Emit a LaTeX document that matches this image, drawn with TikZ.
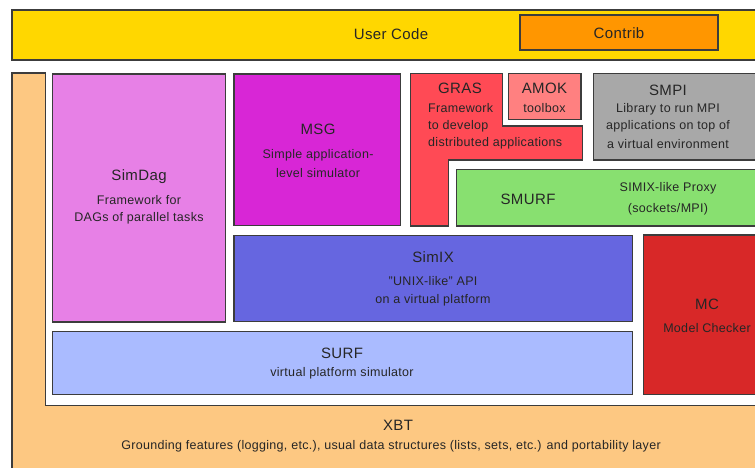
\documentclass[tikz,border=0pt]{standalone}
\usepackage{fontspec}
\setmainfont{Liberation Sans}[LetterSpace=2.5]
\definecolor{usercol}{RGB}{255,215,0}
\definecolor{contribcol}{RGB}{255,150,0}
\definecolor{xbtcol}{RGB}{253,200,130}
\definecolor{simdagcol}{RGB}{231,128,230}
\definecolor{msgcol}{RGB}{216,38,214}
\definecolor{grascol}{RGB}{255,74,85}
\definecolor{amokcol}{RGB}{255,128,128}
\definecolor{smpicol}{RGB}{168,168,168}
\definecolor{smurfcol}{RGB}{136,224,112}
\definecolor{simixcol}{RGB}{102,102,224}
\definecolor{mccol}{RGB}{216,40,40}
\definecolor{surfcol}{RGB}{170,187,255}
\definecolor{edgecol}{RGB}{60,60,60}
\tikzset{
  blk/.style={draw=edgecol, line width=1.1pt, anchor=north west, inner sep=0pt, outer sep=0pt},
  ttl/.style={font=\fontsize{15}{17}\selectfont, inner sep=0pt, text=black!85},
  sub/.style={font=\fontsize{12.5}{14}\selectfont, inner sep=0pt, text=black!85},
}
\begin{document}
\begin{tikzpicture}[x=1pt,y=-1pt]
\useasboundingbox (0,0) rectangle (755,468);
\clip (0,0) rectangle (755,468);
% User code
\node[blk, fill=usercol, minimum width=760pt, minimum height=50pt] (user) at (12,10) {};
\node[ttl] (userT) at (391,34) {User Code};
\node[blk, fill=contribcol, minimum width=198pt, minimum height=35pt] (contrib) at (520,15) {};
\node[ttl] (contribT) at (619,33) {Contrib};
% XBT
\draw[draw=edgecol, line width=1.1pt, fill=xbtcol] (12,73) -- (45.5,73) -- (45.5,405.5) -- (770,405.5) -- (770,480) -- (12,480) -- cycle;
\node[ttl] (xbtT) at (398,425) {XBT};
\node[sub] (xbtS) at (391,446) {Grounding features (logging, etc.), usual data structures (lists, sets, etc.) and portability layer};
% SimDag
\node[blk, fill=simdagcol, minimum width=173pt, minimum height=248pt] (simdag) at (52.5,74) {};
\node[ttl] (simdagT) at (139,177) {SimDag};
\node[sub] (simdagS1) at (139,200) {Framework for};
\node[sub] (simdagS2) at (139,218) {DAGs of parallel tasks};
% MSG
\node[blk, fill=msgcol, minimum width=166.5pt, minimum height=151.5pt] (msg) at (234,74) {};
\node[ttl] (msgT) at (318,129) {MSG};
\node[sub] (msgS1) at (318,155) {Simple application-};
\node[sub] (msgS2) at (318,173) {level simulator};
% GRAS
\draw[draw=edgecol, line width=1.1pt, fill=grascol] (410.7,73.5) -- (502.7,73.5) -- (502.7,126) -- (582.7,126) -- (582.7,160) -- (448.3,160) -- (448.3,226) -- (410.7,226) -- cycle;
\node[ttl] (grasT) at (460,88) {GRAS};
\node[sub, anchor=west] (grasS1) at (428,108) {Framework};
\node[sub, anchor=west] (grasS2) at (428,126) {to develop};
\node[sub, anchor=west] (grasS3) at (428,143) {distributed applications};
% AMOK
\node[blk, fill=amokcol, minimum width=72.7pt, minimum height=46pt] (amok) at (508.3,73.5) {};
\node[ttl] (amokT) at (544.5,88) {AMOK};
\node[sub] (amokS) at (544.5,108) {toolbox};
% SMPI
\node[blk, fill=smpicol, minimum width=175pt, minimum height=86.5pt] (smpi) at (593.3,73.5) {};
\node[ttl] (smpiT) at (668,90) {SMPI};
\node[sub] (smpiS1) at (668,109) {Library to run MPI};
\node[sub] (smpiS2) at (668,126) {applications on top of};
\node[sub] (smpiS3) at (668,144) {a virtual environment};
% SMURF
\node[blk, fill=smurfcol, minimum width=310pt, minimum height=56.7pt] (smurf) at (456.7,169.3) {};
\node[ttl] (smurfT) at (528,199) {SMURF};
\node[sub] (smurfS1) at (668,188) {SIMIX-like Proxy};
\node[sub] (smurfS2) at (668,209) {(sockets/MPI)};
% SimIX
\node[blk, fill=simixcol, minimum width=398.7pt, minimum height=86pt] (simix) at (234,235.7) {};
\node[ttl] (simixT) at (433,257) {SimIX};
\node[sub] (simixS1) at (433,281) {"UNIX-like" API};
\node[sub] (simixS2) at (433,300) {on a virtual platform};
% MC
\node[blk, fill=mccol, minimum width=125pt, minimum height=159.3pt] (mc) at (643.3,235) {};
\node[ttl] (mcT) at (707,304) {MC};
\node[sub] (mcS) at (707,328) {Model Checker};
% SURF
\node[blk, fill=surfcol, minimum width=580.2pt, minimum height=62.6pt] (surf) at (52.5,331.7) {};
\node[ttl] (surfT) at (342,353) {SURF};
\node[sub] (surfS) at (342,373) {virtual platform simulator};
\end{tikzpicture}
\end{document}
